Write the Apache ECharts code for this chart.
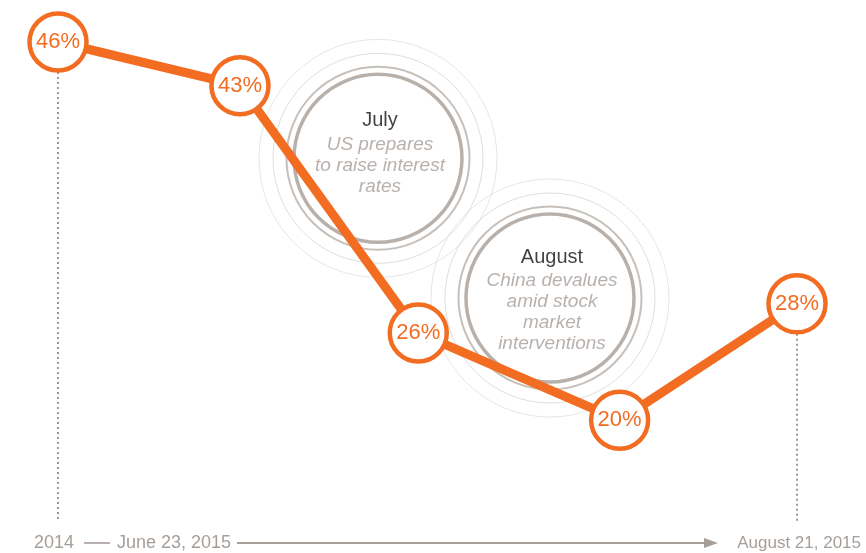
<!DOCTYPE html>
<html>
<head>
<meta charset="utf-8">
<script src="https://cdn.jsdelivr.net/npm/echarts@6/dist/echarts.min.js"></script>
<style>
  html, body { margin: 0; padding: 0; background: #fff; }
  #chart { width: 866px; height: 553px; }
</style>
</head>
<body>
<div id="chart"></div>
<script>
// share values along the timeline (x = position on the timeline, 0 = start, 4 = end)
const timeline = [0, 0.985, 1.95, 3.04, 4];
const shares = [46, 43, 26, 20, 28];

// annotated events, placed in chart units
const events = ['July', 'August'];
const eventText = [
  ['US prepares', 'to raise interest', 'rates'],
  ['China devalues', 'amid stock', 'market', 'interventions']
];
const eventX = [1.732, 2.663];
const eventY = [38.0, 28.4];

// bottom timeline captions
const timeLabels = ['2014 \u2014 June 23, 2015', 'August 21, 2015'];

const ORANGE = '#F26C22';
const GREY_TXT = '#A69E98';
const Y_MIN = 13, Y_MAX = 46;
const FONT = '"Liberation Sans", Arial';

const chart = echarts.init(document.getElementById('chart'));

const eventData = events.map((m, i) => [eventX[i], eventY[i]]);

// concentric rings around each event
const rings = [
  { size: 238, width: 1, color: '#E3DEDA' },
  { size: 210, width: 1, color: '#DAD4CF' },
  { size: 183, width: 2, color: '#B8B0AA' },
  { size: 168, width: 3.5, color: '#A69D96' }
];

const ringSeries = rings.map((r, k) => ({
  type: 'scatter',
  z: 1,
  silent: true,
  symbol: 'circle',
  symbolSize: r.size,
  itemStyle: { color: 'rgba(0,0,0,0)', borderColor: r.color, borderWidth: r.width },
  data: eventData.map((d, i) => ({
    value: d,
    label: k === rings.length - 1 ? {
      show: true,
      position: 'inside',
      offset: [2, i === 0 ? -6 : 1],
      formatter: '{t|' + events[i] + '}\n' + eventText[i].map(s => '{d|' + s + '}').join('\n'),
      rich: {
        t: { fontFamily: 'Liberation Sans, Arial', fontSize: 20, color: '#111', lineHeight: 27, align: 'center' },
        d: { fontFamily: 'Liberation Sans, Arial', fontSize: 19, fontStyle: 'italic', color: GREY_TXT, lineHeight: 21, align: 'center' }
      }
    } : { show: false }
  }))
}));

// dotted drop lines from first and last point
const dropSeries = [0, shares.length - 1].map(i => ({
  type: 'line',
  z: 2,
  silent: true,
  symbol: 'none',
  lineStyle: { color: '#8E8E8E', width: 1.8, type: [2, 3] },
  data: [[timeline[i], shares[i]], [timeline[i], Y_MIN]]
}));

const [leftYear, leftDate] = timeLabels[0].split(' \u2014 ');

chart.setOption({
  animation: false,
  grid: { left: 58, right: 69, top: 42, bottom: 31 },
  xAxis: { type: 'value', min: 0, max: 4, show: false },
  yAxis: { type: 'value', min: Y_MIN, max: Y_MAX, show: false },
  series: [
    ...ringSeries,
    ...dropSeries,
    {
      type: 'line',
      z: 5,
      symbol: 'circle',
      symbolSize: 57,
      lineStyle: { color: ORANGE, width: 9 },
      itemStyle: { color: '#fff', borderColor: ORANGE, borderWidth: 4.5 },
      label: {
        show: true,
        position: 'inside',
        formatter: p => p.value[1] + '%',
        fontFamily: 'Liberation Sans, Arial',
        fontSize: 22,
        color: ORANGE
      },
      data: timeline.map((x, i) => [x, shares[i]])
    }
  ],
  graphic: [
    {
      type: 'text', x: 34, y: 543,
      style: { text: leftYear, fill: GREY_TXT, font: '18px ' + FONT, textAlign: 'left', textVerticalAlign: 'middle' }
    },
    {
      type: 'line', silent: true,
      shape: { x1: 84, y1: 543, x2: 110, y2: 543 },
      style: { stroke: GREY_TXT, lineWidth: 1.6 }
    },
    {
      type: 'text', x: 117, y: 543,
      style: { text: leftDate, fill: GREY_TXT, font: '18px ' + FONT, textAlign: 'left', textVerticalAlign: 'middle' }
    },
    {
      type: 'line', silent: true,
      shape: { x1: 237, y1: 543, x2: 706, y2: 543 },
      style: { stroke: GREY_TXT, lineWidth: 2 }
    },
    {
      type: 'polygon', silent: true,
      shape: { points: [[704, 538], [718, 543], [704, 548]] },
      style: { fill: GREY_TXT }
    },
    {
      type: 'text', x: 861, y: 543,
      style: { text: timeLabels[1], fill: GREY_TXT, font: '17px ' + FONT, textAlign: 'right', textVerticalAlign: 'middle' }
    }
  ]
});
</script>
</body>
</html>
